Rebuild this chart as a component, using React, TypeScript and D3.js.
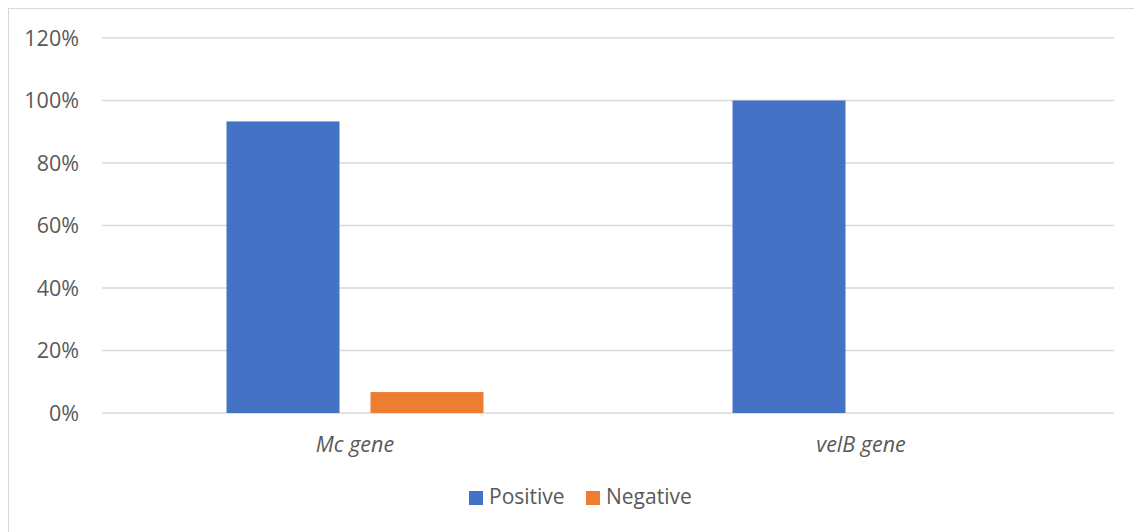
import React from "react";
import * as d3 from "d3";

const categories = ["Mc gene", "velB gene"];
const seriesNames = ["Positive", "Negative"];
const positive = [93.3, 100];
const negative = [6.7, 0];
const yTicks = [0, 20, 40, 60, 80, 100, 120];
const colors = ["#4472C4", "#ED7D31"];

const W = 1134;
const H = 532;
const FONT = "'Open Sans', 'Segoe UI', sans-serif";
const TXT = "#595959";

export default function App() {
  const plotLeft = 102;
  const plotRight = 1114;
  const y = d3.scaleLinear().domain([0, 120]).range([413, 38]);
  const x0 = d3.scaleBand<string>().domain(categories).range([plotLeft, plotRight]).paddingInner(0).paddingOuter(0);
  const barW = x0.bandwidth() * 0.2233;
  const gap = 31;
  const x1 = d3
    .scaleOrdinal<string, number>()
    .domain(seriesNames)
    .range([-(barW + gap / 2), gap / 2]);
  const values = [positive, negative];

  return (
    <svg
      width={W}
      height={H}
      style={{ position: "absolute", left: 0, top: 0, background: "#fff" }}
      fontFamily={FONT}
    >
      <rect x={8.5} y={8.5} width={W + 10} height={H + 10} fill="#fff" stroke="#d9d9d9" strokeWidth={1} />
      {yTicks.map((t) => (
        <g key={t}>
          <line x1={plotLeft} x2={plotRight} y1={y(t)} y2={y(t)} stroke="#d9d9d9" strokeWidth={1.3} />
          <text x={79} y={y(t)} dy="0.36em" textAnchor="end" fontSize={21.5} fill={TXT}>
            {t}%
          </text>
        </g>
      ))}
      {categories.map((c, ci) => {
        const cx = (x0(c) as number) + x0.bandwidth() / 2;
        return (
          <g key={c}>
            {seriesNames.map((s, si) => {
              const v = values[si][ci];
              if (v <= 0) return null;
              return (
                <rect
                  key={s}
                  x={cx + x1(s)}
                  y={y(v)}
                  width={barW}
                  height={y(0) - y(v)}
                  fill={colors[si]}
                />
              );
            })}
            <text x={cx} y={452} textAnchor="middle" fontSize={21.5} fontStyle="italic" fill={TXT}>
              {c}
            </text>
          </g>
        );
      })}
      <g>
        {seriesNames.map((s, i) => {
          const lx = i === 0 ? 469 : 586;
          return (
            <g key={s}>
              <rect x={lx} y={491} width={14} height={14} fill={colors[i]} />
              <text x={lx + 20} y={504} fontSize={21} fill={TXT}>
                {s}
              </text>
            </g>
          );
        })}
      </g>
    </svg>
  );
}
